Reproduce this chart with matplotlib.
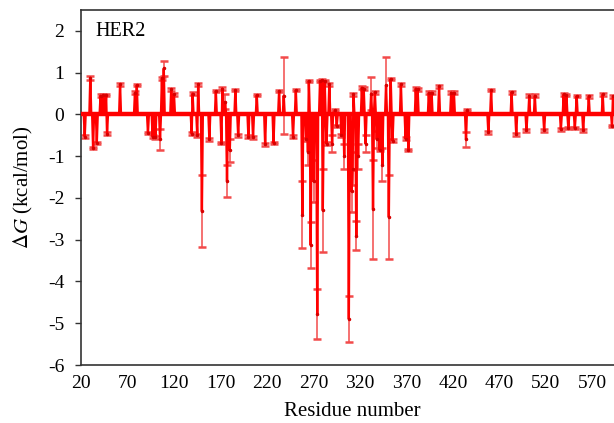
"""
HER2 per-residue binding free energy decomposition
"""

import numpy as np
import matplotlib.pyplot as plt

plt.rcParams['font.family'] = ['Liberation Serif', 'DejaVu Serif']
plt.rcParams['mathtext.fontset'] = 'stix'
plt.rcParams['axes.unicode_minus'] = False

# residue range shown on the x axis
first_res = 20
last_res = 620

# residues that stand out from the zero baseline: number, mean dG, error
spike_res = [24, 30, 33, 37, 41, 44, 47, 48, 62, 78, 80, 92, 97, 100, 105,
             107, 109, 117, 120, 139, 140, 145, 146, 150, 158, 165, 171, 172,
             175, 177, 180, 186, 189, 200, 205, 209, 218, 227, 233, 238, 248,
             251, 258, 262, 264, 265, 267, 270, 274, 277, 279, 280, 282, 284,
             287, 290, 293, 295, 300, 303, 308, 311, 312, 313, 316, 318, 322,
             324, 326, 332, 334, 336, 338, 341, 344, 348, 351, 353, 355, 364,
             369, 372, 380, 382, 394, 397, 405, 418, 421, 434, 435, 458, 461,
             483, 488, 499, 502, 508, 518, 536, 539, 542, 544, 551, 553, 560,
             566, 581, 591, 592]
spike_dg = [-0.53, 0.88, -0.80, -0.68, 0.45, 0.46, 0.46, -0.46, 0.72, 0.52,
            0.70, -0.44, -0.53, -0.55, -0.60, 0.86, 1.10, 0.60, 0.48, -0.46,
            0.50, -0.50, 0.72, -2.32, -0.60, 0.56, -0.68, 0.62, 0.30, -1.60,
            -0.86, 0.58, -0.50, -0.53, -0.55, 0.46, -0.72, -0.68, 0.56, 0.45,
            -0.53, 0.58, -2.40, -0.60, -0.90, 0.80, -3.13, -1.60, -4.77, 0.80,
            0.82, -2.30, 0.80, -0.70, 0.72, -0.70, 0.10, -0.28, -0.50, -1.00,
            -4.90, -1.84, -1.30, 0.48, -2.90, -1.00, 0.64, 0.62, -0.70, 0.50,
            -2.27, 0.53, -0.60, -0.85, -1.20, 0.70, -2.46, 0.85, -0.63, 0.72,
            -0.58, -0.85, 0.62, 0.60, 0.52, 0.52, 0.67, 0.52, 0.52, -0.60,
            0.10, -0.43, 0.58, 0.53, -0.48, -0.38, 0.45, 0.45, -0.38, -0.36,
            0.48, 0.46, -0.33, -0.33, 0.44, -0.38, 0.43, 0.48, -0.28, 0.43]
spike_err = [0.03, 0.05, 0.03, 0.03, 0.03, 0.03, 0.03, 0.03, 0.03, 0.03,
             0.03, 0.03, 0.03, 0.03, 0.25, 0.03, 0.17, 0.03, 0.03, 0.03,
             0.03, 0.03, 0.03, 0.86, 0.03, 0.03, 0.03, 0.03, 0.18, 0.38,
             0.27, 0.03, 0.03, 0.03, 0.03, 0.03, 0.03, 0.03, 0.03, 0.92,
             0.03, 0.03, 0.80, 0.03, 0.30, 0.03, 0.55, 0.50, 0.60, 0.03,
             0.03, 1.00, 0.03, 0.03, 0.03, 0.20, 0.03, 0.03, 0.03, 0.30,
             0.55, 0.50, 0.40, 0.03, 0.34, 0.30, 0.03, 0.03, 0.20, 0.40,
             1.18, 0.03, 0.20, 0.03, 0.40, 0.67, 1.00, 0.03, 0.03, 0.03,
             0.03, 0.03, 0.03, 0.03, 0.03, 0.03, 0.03, 0.03, 0.03, 0.18,
             0.03, 0.03, 0.03, 0.03, 0.03, 0.03, 0.03, 0.03, 0.03, 0.03,
             0.03, 0.03, 0.03, 0.03, 0.03, 0.03, 0.03, 0.03, 0.03, 0.03]

x_ticks = [20, 70, 120, 170, 220, 270, 320, 370, 420, 470, 520, 570]
y_ticks = [-6, -5, -4, -3, -2, -1, 0, 1, 2]

res = np.arange(first_res, last_res + 1)
dg = np.zeros(len(res))
err = np.zeros(len(res))
idx = np.array(spike_res) - first_res
dg[idx] = spike_dg
err[idx] = spike_err

fig = plt.figure(figsize=(6.14, 4.23), dpi=100)
# right part of the frame runs off the picture, as in the original
ax = fig.add_axes([81 / 614, 58 / 423, 558 / 614, 355 / 423])

ax.errorbar(res, dg, yerr=err, fmt='none', ecolor='#f24a4a',
            elinewidth=1.1, capsize=2.6, capthick=1.8, zorder=2)
ax.plot(res, dg, color='#ff0000', lw=1.7, zorder=3)
ax.plot(res, np.zeros(len(res)), color='#ff0000', lw=3.2, zorder=3)
ax.plot(spike_res, spike_dg, '.', color='#d80000', ms=3, zorder=4)

ax.set_xlim(first_res, last_res)
ax.set_ylim(-6, 2.5)
ax.set_xticks(x_ticks)
ax.set_yticks(y_ticks)
ax.tick_params(axis='x', length=0, pad=7, labelsize=14)
ax.tick_params(axis='y', length=4, width=1, pad=8, labelsize=14,
               color='#333333')

for s in ax.spines.values():
    s.set_color('#333333')
    s.set_linewidth(1.2)

ax.text(0.025, 0.965, 'HER2', transform=ax.transAxes, fontsize=14.5,
        va='top', ha='left')

ax.set_xlabel('Residue number', fontsize=15)
ax.xaxis.set_label_coords(0.486, -0.105)
ax.set_ylabel(r'$\Delta G$ (kcal/mol)', fontsize=15)
ax.yaxis.set_label_coords(-0.082, 0.5)

fig.savefig('out.png', dpi=100)
